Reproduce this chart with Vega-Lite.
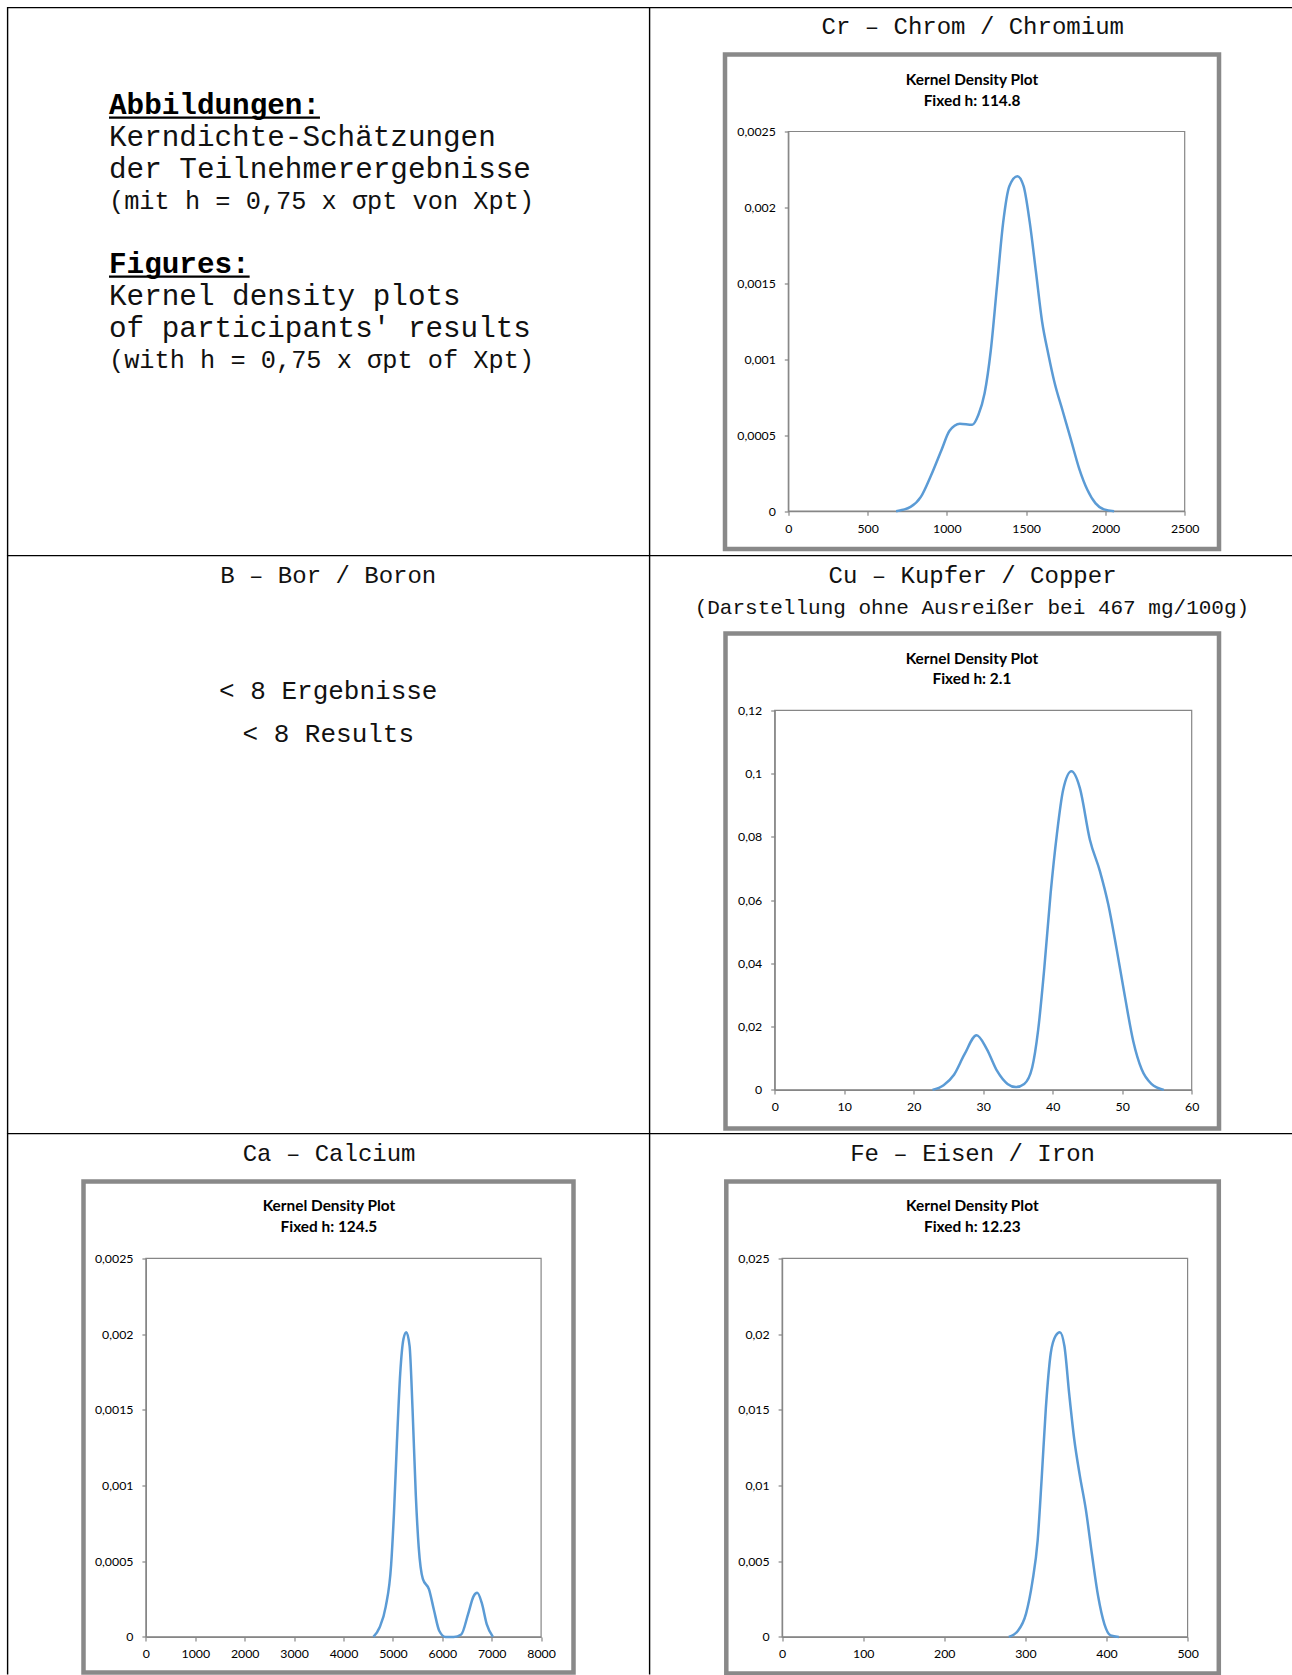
{
  "$schema": "https://vega.github.io/schema/vega-lite/v6.json",
  "background": "white",
  "padding": {"left": 6.5, "top": 6.5, "right": 0, "bottom": 0},
  "config": {
    "view": {"stroke": null},
    "axis": {"grid": false, "domainColor": "#868686", "tickColor": "#868686", "domainWidth": 1.2, "tickWidth": 1.2, "tickSize": 4, "labelFont": "Lato", "labelFontSize": 12.3, "labelColor": "#000000", "labelFlush": false, "labelOverlap": false, "zindex": 1},
    "text": {"color": "#000000"}
  },
  "columns": 2,
  "spacing": 0,
  "bounds": "flush",
  "align": "each",
  "concat": [
    {
      "width": 641.5, "height": 548,
      "view": {"stroke": "#000000", "strokeWidth": 1.4, "strokeDash": [641.5, 1189.5, 548]},
      "data": {"values": [
        {"text": "Abbildungen:", "role": "heading"},
        {"text": "Kerndichte-Schätzungen", "role": "body"},
        {"text": "der Teilnehmerergebnisse", "role": "body"},
        {"text": "(mit h = 0,75 x σpt von Xpt)", "role": "note"},
        {"text": "", "role": "blank"},
        {"text": "Figures:", "role": "heading"},
        {"text": "Kernel density plots", "role": "body"},
        {"text": "of participants' results", "role": "body"},
        {"text": "(with h = 0,75 x σpt of Xpt)", "role": "note"}
      ]},
      "encoding": {
        "x": {"datum": 0, "type": "quantitative", "scale": {"domain": [0, 30], "range": [101.5, 628.9]}, "axis": null},
        "y": {"field": "text", "type": "ordinal", "scale": {"type": "point", "padding": 0, "range": [106.6, 360.9], "domain": ["Abbildungen:", "Kerndichte-Schätzungen", "der Teilnehmerergebnisse", "(mit h = 0,75 x σpt von Xpt)", "", "Figures:", "Kernel density plots", "of participants' results", "(with h = 0,75 x σpt of Xpt)"]}, "axis": null}
      },
      "layer": [
        {"transform": [{"filter": "datum.role === 'heading'"}], "mark": {"type": "text", "align": "left", "baseline": "alphabetic", "font": "Liberation Mono", "fontSize": 29.3, "fontWeight": "bold"}, "encoding": {"text": {"field": "text"}}},
        {"transform": [{"filter": "datum.role === 'body'"}], "mark": {"type": "text", "align": "left", "baseline": "alphabetic", "font": "Liberation Mono", "fontSize": 29.3, "color": "#111111"}, "encoding": {"text": {"field": "text"}}},
        {"transform": [{"filter": "datum.role === 'note'"}], "mark": {"type": "text", "align": "left", "baseline": "alphabetic", "font": "Liberation Mono", "fontSize": 25.3, "color": "#111111"}, "encoding": {"text": {"field": "text"}}},
        {"transform": [{"filter": "datum.text === 'Abbildungen:'"}], "mark": {"type": "rule", "yOffset": 3.5, "strokeWidth": 2.2, "color": "#000000"}, "encoding": {"x2": {"datum": 12}}},
        {"transform": [{"filter": "datum.text === 'Figures:'"}], "mark": {"type": "rule", "yOffset": 3.5, "strokeWidth": 2.2, "color": "#000000"}, "encoding": {"x2": {"datum": 8}}}
      ]
    },
    {
      "width": 642.5, "height": 548,
      "view": {"stroke": "#000000", "strokeWidth": 1.4, "strokeDash": [642.5, 1190.5, 548]},
      "resolve": {"axis": {"x": "independent", "y": "independent"}},
      "layer": [
        {"data": {"values": [{}]}, "mark": {"type": "rect", "fill": "transparent", "stroke": "#898989", "strokeWidth": 4.5, "xOffset": -63.3, "x2Offset": 34.3, "yOffset": 37.8, "y2Offset": -77}, "encoding": {"x": {"datum": 0, "axis": null}, "x2": {"datum": 2500}, "y": {"datum": 0, "axis": null}, "y2": {"datum": 0.0025}}},
        {"data": {"values": [{}]}, "mark": {"type": "rect", "fill": "transparent", "stroke": "#868686", "strokeWidth": 1.2}, "encoding": {"x": {"datum": 0, "axis": null}, "x2": {"datum": 2500}, "y": {"datum": 0, "axis": null}, "y2": {"datum": 0.0025}}},
        {
          "data": {"values": [
            {"value": 680, "density": 0}, {"value": 771, "density": 0.000028}, {"value": 836, "density": 0.000094}, {"value": 900, "density": 0.000235}, {"value": 965, "density": 0.0004}, {"value": 1017, "density": 0.000529}, {"value": 1082, "density": 0.000576}, {"value": 1160, "density": 0.000569}, {"value": 1199, "density": 0.000635}, {"value": 1238, "density": 0.000776}, {"value": 1277, "density": 0.001058}, {"value": 1316, "density": 0.00148}, {"value": 1355, "density": 0.0019}, {"value": 1394, "density": 0.00214}, {"value": 1445, "density": 0.002206}, {"value": 1484, "density": 0.00214}, {"value": 1523, "density": 0.0019}, {"value": 1562, "density": 0.001575}, {"value": 1601, "density": 0.001246}, {"value": 1640, "density": 0.001034}, {"value": 1679, "density": 0.000847}, {"value": 1731, "density": 0.000658}, {"value": 1783, "density": 0.00047}, {"value": 1834, "density": 0.000282}, {"value": 1886, "density": 0.000141}, {"value": 1938, "density": 0.0000514}, {"value": 1991, "density": 0.0000118}, {"value": 2055, "density": 0}
          ]},
          "mark": {"type": "line", "interpolate": "monotone", "strokeWidth": 2.5, "color": "#5B9BD5"},
          "encoding": {
            "x": {"field": "value", "type": "quantitative", "scale": {"domain": [0, 2500], "range": [138.8, 535.2], "nice": false, "zero": false}, "axis": {"orient": "bottom", "offset": -44.3, "values": [0, 500, 1000, 1500, 2000, 2500], "format": "d", "labelPadding": 7, "title": null}},
            "y": {"field": "density", "type": "quantitative", "scale": {"domain": [0, 0.0025], "range": [503.7, 124], "nice": false, "zero": false}, "axis": {"orient": "left", "offset": -138.8, "values": [0, 0.0005, 0.001, 0.0015, 0.002, 0.0025], "labelExpr": "replace(format(datum.value, '~r'), '.', ',')", "labelPadding": 9, "title": null}}
          }
        },
        {"data": {"values": [{"text": "Cr – Chrom / Chromium"}]}, "mark": {"type": "text", "font": "Liberation Mono", "fontSize": 24, "color": "#111111", "baseline": "middle", "dx": -13.8, "dy": -104.2}, "encoding": {"text": {"field": "text"}, "x": {"datum": 1250, "axis": null}, "y": {"datum": 0.0025, "axis": null}}},
        {"data": {"values": [{"text": "Kernel Density Plot"}]}, "mark": {"type": "text", "font": "Lato", "fontSize": 15.4, "fontWeight": "bold", "baseline": "middle", "dx": -14.5, "dy": -51.7}, "encoding": {"text": {"field": "text"}, "x": {"datum": 1250, "axis": null}, "y": {"datum": 0.0025, "axis": null}}},
        {"data": {"values": [{"text": "Fixed h: 114.8"}]}, "mark": {"type": "text", "font": "Lato", "fontSize": 15.4, "fontWeight": "bold", "baseline": "middle", "dx": -14.5, "dy": -30.3}, "encoding": {"text": {"field": "text"}, "x": {"datum": 1250, "axis": null}, "y": {"datum": 0.0025, "axis": null}}}
      ]
    },
    {
      "width": 641.5, "height": 578,
      "view": {"stroke": "#000000", "strokeWidth": 1.4, "strokeDash": [641.5, 1219.5, 578]},
      "encoding": {"x": {"datum": 0.5, "type": "quantitative", "scale": {"domain": [0, 1]}, "axis": null}},
      "layer": [
        {"data": {"values": [{"text": "B – Bor / Boron"}]}, "mark": {"type": "text", "font": "Liberation Mono", "fontSize": 24, "color": "#111111", "baseline": "middle"}, "encoding": {"text": {"field": "text"}, "y": {"field": "text", "type": "ordinal", "scale": {"type": "point", "range": [0, 41]}, "axis": null}}},
        {"data": {"values": [{"text": "< 8 Ergebnisse"}, {"text": "< 8 Results"}]}, "mark": {"type": "text", "font": "Liberation Mono", "fontSize": 26, "color": "#111111", "baseline": "alphabetic"}, "encoding": {"text": {"field": "text"}, "y": {"field": "text", "type": "ordinal", "sort": null, "scale": {"type": "point", "padding": 0, "range": [143, 186.7]}, "axis": null}}}
      ],
      "resolve": {"scale": {"y": "independent"}}
    },
    {
      "width": 642.5, "height": 578,
      "view": {"stroke": "#000000", "strokeWidth": 1.4, "strokeDash": [642.5, 1220.5, 578]},
      "resolve": {"axis": {"x": "independent", "y": "independent"}},
      "layer": [
        {"data": {"values": [{}]}, "mark": {"type": "rect", "fill": "transparent", "stroke": "#898989", "strokeWidth": 4.5, "xOffset": -49.2, "x2Offset": 27.3, "yOffset": 38.6, "y2Offset": -76.8}, "encoding": {"x": {"datum": 0, "axis": null}, "x2": {"datum": 60}, "y": {"datum": 0, "axis": null}, "y2": {"datum": 0.12}}},
        {"data": {"values": [{}]}, "mark": {"type": "rect", "fill": "transparent", "stroke": "#868686", "strokeWidth": 1.2}, "encoding": {"x": {"datum": 0, "axis": null}, "x2": {"datum": 60}, "y": {"datum": 0, "axis": null}, "y2": {"datum": 0.12}}},
        {
          "data": {"values": [
            {"value": 22.7, "density": 0}, {"value": 24.3, "density": 0.0015}, {"value": 25.8, "density": 0.0048}, {"value": 27.3, "density": 0.0112}, {"value": 29.05, "density": 0.0173}, {"value": 30.5, "density": 0.013}, {"value": 32.0, "density": 0.006}, {"value": 33.5, "density": 0.0019}, {"value": 34.7, "density": 0.0009}, {"value": 35.9, "density": 0.0019}, {"value": 37.05, "density": 0.0071}, {"value": 37.9, "density": 0.0188}, {"value": 38.8, "density": 0.0387}, {"value": 39.7, "density": 0.0621}, {"value": 40.6, "density": 0.0808}, {"value": 41.5, "density": 0.0948}, {"value": 42.7, "density": 0.1007}, {"value": 43.9, "density": 0.0955}, {"value": 45.35, "density": 0.0791}, {"value": 46.8, "density": 0.0691}, {"value": 48.0, "density": 0.0586}, {"value": 49.2, "density": 0.0445}, {"value": 50.4, "density": 0.0294}, {"value": 51.6, "density": 0.0153}, {"value": 52.8, "density": 0.0065}, {"value": 54.2, "density": 0.0019}, {"value": 56.0, "density": 0}
          ]},
          "mark": {"type": "line", "interpolate": "monotone", "strokeWidth": 2.5, "color": "#5B9BD5"},
          "encoding": {
            "x": {"field": "value", "type": "quantitative", "scale": {"domain": [0, 60], "range": [125.2, 542.2], "nice": false, "zero": false}, "axis": {"orient": "bottom", "offset": -43.6, "values": [0, 10, 20, 30, 40, 50, 60], "format": "d", "labelPadding": 7, "title": null}},
            "y": {"field": "density", "type": "quantitative", "scale": {"domain": [0, 0.12], "range": [534.4, 154.8], "nice": false, "zero": false}, "axis": {"orient": "left", "offset": -125.2, "values": [0, 0.02, 0.04, 0.06, 0.08, 0.1, 0.12], "labelExpr": "replace(format(datum.value, '~r'), '.', ',')", "labelPadding": 9, "title": null}}
          }
        },
        {"data": {"values": [{"text": "Cu – Kupfer / Copper"}]}, "mark": {"type": "text", "font": "Liberation Mono", "fontSize": 24, "color": "#111111", "baseline": "middle", "dx": -10.7, "dy": -134.3}, "encoding": {"text": {"field": "text"}, "x": {"datum": 30, "axis": null}, "y": {"datum": 0.12, "axis": null}}},
        {"data": {"values": [{"text": "(Darstellung ohne Ausreißer bei 467 mg/100g)"}]}, "mark": {"type": "text", "font": "Liberation Mono", "fontSize": 21, "color": "#111111", "baseline": "middle", "dx": -11.3, "dy": -102.4}, "encoding": {"text": {"field": "text"}, "x": {"datum": 30, "axis": null}, "y": {"datum": 0.12, "axis": null}}},
        {"data": {"values": [{"text": "Kernel Density Plot"}]}, "mark": {"type": "text", "font": "Lato", "fontSize": 15.4, "fontWeight": "bold", "baseline": "middle", "dx": -11.3, "dy": -51.8}, "encoding": {"text": {"field": "text"}, "x": {"datum": 30, "axis": null}, "y": {"datum": 0.12, "axis": null}}},
        {"data": {"values": [{"text": "Fixed h: 2.1"}]}, "mark": {"type": "text", "font": "Lato", "fontSize": 15.4, "fontWeight": "bold", "baseline": "middle", "dx": -11.3, "dy": -31}, "encoding": {"text": {"field": "text"}, "x": {"datum": 30, "axis": null}, "y": {"datum": 0.12, "axis": null}}}
      ]
    },
    {
      "width": 641.5, "height": 541,
      "view": {"stroke": "#000000", "strokeWidth": 1.4, "strokeDash": [641.5, 1182.5, 541]},
      "resolve": {"axis": {"x": "independent", "y": "independent"}},
      "layer": [
        {"data": {"values": [{}]}, "mark": {"type": "rect", "fill": "transparent", "stroke": "#898989", "strokeWidth": 4.5, "xOffset": -62.4, "x2Offset": 32.4, "yOffset": 35.6, "y2Offset": -76.9}, "encoding": {"x": {"datum": 0, "axis": null}, "x2": {"datum": 8000}, "y": {"datum": 0, "axis": null}, "y2": {"datum": 0.0025}}},
        {"data": {"values": [{}]}, "mark": {"type": "rect", "fill": "transparent", "stroke": "#868686", "strokeWidth": 1.2}, "encoding": {"x": {"datum": 0, "axis": null}, "x2": {"datum": 8000}, "y": {"datum": 0, "axis": null}, "y2": {"datum": 0.0025}}},
        {
          "data": {"values": [
            {"value": 4605, "density": 0}, {"value": 4730, "density": 0.000062}, {"value": 4855, "density": 0.0002}, {"value": 4964, "density": 0.000475}, {"value": 5022, "density": 0.00082}, {"value": 5081, "density": 0.00128}, {"value": 5148, "density": 0.00174}, {"value": 5215, "density": 0.00197}, {"value": 5272, "density": 0.002013}, {"value": 5338, "density": 0.00192}, {"value": 5397, "density": 0.00151}, {"value": 5464, "density": 0.000934}, {"value": 5523, "density": 0.00059}, {"value": 5606, "density": 0.000383}, {"value": 5731, "density": 0.000314}, {"value": 5832, "density": 0.000176}, {"value": 5940, "density": 0.000039}, {"value": 6065, "density": 0}, {"value": 6231, "density": 0}, {"value": 6383, "density": 0.000016}, {"value": 6525, "density": 0.000154}, {"value": 6632, "density": 0.000268}, {"value": 6707, "density": 0.000291}, {"value": 6800, "density": 0.000223}, {"value": 6899, "density": 0.000085}, {"value": 7025, "density": 0}
          ]},
          "mark": {"type": "line", "interpolate": "monotone", "strokeWidth": 2.5, "color": "#5B9BD5"},
          "encoding": {
            "x": {"field": "value", "type": "quantitative", "scale": {"domain": [0, 8000], "range": [138.4, 533.6], "nice": false, "zero": false}, "axis": {"orient": "bottom", "offset": -37.6, "values": [0, 1000, 2000, 3000, 4000, 5000, 6000, 7000, 8000], "format": "d", "labelPadding": 7, "title": null}},
            "y": {"field": "density", "type": "quantitative", "scale": {"domain": [0, 0.0025], "range": [503.4, 124.9], "nice": false, "zero": false}, "axis": {"orient": "left", "offset": -138.4, "values": [0, 0.0005, 0.001, 0.0015, 0.002, 0.0025], "labelExpr": "replace(format(datum.value, '~r'), '.', ',')", "labelPadding": 9, "title": null}}
          }
        },
        {"data": {"values": [{"text": "Ca – Calcium"}]}, "mark": {"type": "text", "font": "Liberation Mono", "fontSize": 24, "color": "#111111", "baseline": "middle", "dx": -14.4, "dy": -104.3}, "encoding": {"text": {"field": "text"}, "x": {"datum": 4000, "axis": null}, "y": {"datum": 0.0025, "axis": null}}},
        {"data": {"values": [{"text": "Kernel Density Plot"}]}, "mark": {"type": "text", "font": "Lato", "fontSize": 15.4, "fontWeight": "bold", "baseline": "middle", "dx": -14.6, "dy": -52.1}, "encoding": {"text": {"field": "text"}, "x": {"datum": 4000, "axis": null}, "y": {"datum": 0.0025, "axis": null}}},
        {"data": {"values": [{"text": "Fixed h: 124.5"}]}, "mark": {"type": "text", "font": "Lato", "fontSize": 15.4, "fontWeight": "bold", "baseline": "middle", "dx": -14.6, "dy": -31.3}, "encoding": {"text": {"field": "text"}, "x": {"datum": 4000, "axis": null}, "y": {"datum": 0.0025, "axis": null}}}
      ]
    },
    {
      "width": 642.5, "height": 541,
      "view": {"stroke": "#000000", "strokeWidth": 1.4, "strokeDash": [642.5, 1183.5, 541]},
      "resolve": {"axis": {"x": "independent", "y": "independent"}},
      "layer": [
        {"data": {"values": [{}]}, "mark": {"type": "rect", "fill": "transparent", "stroke": "#898989", "strokeWidth": 4.5, "xOffset": -55.8, "x2Offset": 31.2, "yOffset": 36.6, "y2Offset": -76.9}, "encoding": {"x": {"datum": 0, "axis": null}, "x2": {"datum": 500}, "y": {"datum": 0, "axis": null}, "y2": {"datum": 0.025}}},
        {"data": {"values": [{}]}, "mark": {"type": "rect", "fill": "transparent", "stroke": "#868686", "strokeWidth": 1.2}, "encoding": {"x": {"datum": 0, "axis": null}, "x2": {"datum": 500}, "y": {"datum": 0, "axis": null}, "y2": {"datum": 0.025}}},
        {
          "data": {"values": [
            {"value": 279.5, "density": 0}, {"value": 290.6, "density": 0.00039}, {"value": 300.8, "density": 0.00154}, {"value": 308.5, "density": 0.0036}, {"value": 315.1, "density": 0.00636}, {"value": 320.1, "density": 0.01049}, {"value": 325.2, "density": 0.01509}, {"value": 331.3, "density": 0.01875}, {"value": 337.4, "density": 0.0199}, {"value": 342.5, "density": 0.02013}, {"value": 348.1, "density": 0.01921}, {"value": 354.1, "density": 0.016}, {"value": 360.3, "density": 0.01302}, {"value": 366.9, "density": 0.01072}, {"value": 374.5, "density": 0.00842}, {"value": 382.1, "density": 0.00544}, {"value": 389.7, "density": 0.00268}, {"value": 397.4, "density": 0.00085}, {"value": 405, "density": 0.0001}, {"value": 415.2, "density": 0}
          ]},
          "mark": {"type": "line", "interpolate": "monotone", "strokeWidth": 2.5, "color": "#5B9BD5"},
          "encoding": {
            "x": {"field": "value", "type": "quantitative", "scale": {"domain": [0, 500], "range": [132.6, 538.1], "nice": false, "zero": false}, "axis": {"orient": "bottom", "offset": -37.6, "values": [0, 100, 200, 300, 400, 500], "format": "d", "labelPadding": 7, "title": null}},
            "y": {"field": "density", "type": "quantitative", "scale": {"domain": [0, 0.025], "range": [503.4, 124.9], "nice": false, "zero": false}, "axis": {"orient": "left", "offset": -132.6, "values": [0, 0.005, 0.01, 0.015, 0.02, 0.025], "labelExpr": "replace(format(datum.value, '~r'), '.', ',')", "labelPadding": 9, "title": null}}
          }
        },
        {"data": {"values": [{"text": "Fe – Eisen / Iron"}]}, "mark": {"type": "text", "font": "Liberation Mono", "fontSize": 24, "color": "#111111", "baseline": "middle", "dx": -12.3, "dy": -104.3}, "encoding": {"text": {"field": "text"}, "x": {"datum": 250, "axis": null}, "y": {"datum": 0.025, "axis": null}}},
        {"data": {"values": [{"text": "Kernel Density Plot"}]}, "mark": {"type": "text", "font": "Lato", "fontSize": 15.4, "fontWeight": "bold", "baseline": "middle", "dx": -12.5, "dy": -52.1}, "encoding": {"text": {"field": "text"}, "x": {"datum": 250, "axis": null}, "y": {"datum": 0.025, "axis": null}}},
        {"data": {"values": [{"text": "Fixed h: 12.23"}]}, "mark": {"type": "text", "font": "Lato", "fontSize": 15.4, "fontWeight": "bold", "baseline": "middle", "dx": -12.5, "dy": -31.3}, "encoding": {"text": {"field": "text"}, "x": {"datum": 250, "axis": null}, "y": {"datum": 0.025, "axis": null}}}
      ]
    }
  ]
}
